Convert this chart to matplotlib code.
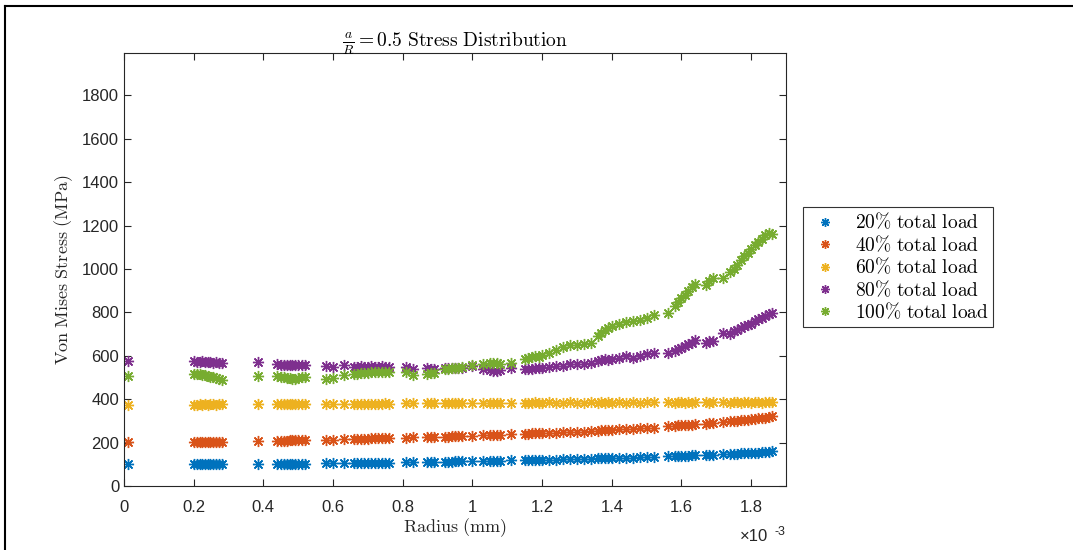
import matplotlib
matplotlib.use("Agg")
import matplotlib.pyplot as plt
from matplotlib.lines import Line2D
from matplotlib.ticker import FuncFormatter
import numpy as np

plt.rcParams["mathtext.fontset"] = "cm"

# radial positions of the nodes (mm)
radius_mm = [
    0.012,
    0.200, 0.210, 0.218, 0.225, 0.232, 0.240, 0.248, 0.256, 0.264, 0.272, 0.280,
    0.385,
    0.440, 0.450, 0.460, 0.468, 0.475, 0.482, 0.490, 0.498, 0.510, 0.520,
    0.580, 0.600, 0.630, 0.660, 0.670, 0.680, 0.690, 0.700, 0.710, 0.720, 0.730, 0.740, 0.750, 0.760,
    0.810, 0.830, 0.870, 0.880, 0.890, 0.920, 0.930, 0.940, 0.950, 0.960, 0.970, 1.000,
    1.030, 1.050, 1.060, 1.070, 1.080, 1.110,
    1.150, 1.160, 1.170, 1.180, 1.190, 1.200, 1.220, 1.240, 1.260, 1.280, 1.300, 1.320,
    1.340, 1.360, 1.370, 1.380, 1.390, 1.400, 1.420, 1.440, 1.460, 1.480, 1.500, 1.520,
    1.560, 1.580, 1.590, 1.600, 1.610, 1.620, 1.630, 1.640, 1.670, 1.680, 1.690,
    1.720, 1.740, 1.750, 1.760, 1.770, 1.780, 1.790, 1.800, 1.810, 1.820, 1.830, 1.840, 1.850, 1.860,
]

# von Mises stress (MPa) per load case
stress_20 = [
    101,
    101, 102, 101, 102, 101, 102, 101, 101, 102, 101, 101,
    102,
    102, 102, 103, 102, 103, 103, 102, 103, 103, 103,
    104, 104, 105, 106, 106, 106, 107, 107, 107, 107, 108, 108, 108, 108,
    109, 109, 110, 110, 111, 112, 112, 112, 113, 113, 113, 114,
    115, 116, 116, 117, 117, 118,
    119, 119, 120, 120, 121, 121, 122, 122, 123, 124, 124, 125,
    126, 127, 128, 128, 129, 129, 130, 131, 131, 132, 133, 134,
    137, 138, 139, 139, 140, 140, 141, 141, 143, 143, 144,
    146, 147, 148, 149, 150, 150, 151, 152, 153, 154, 155, 157, 158, 160,
]
stress_40 = [
    204,
    204, 205, 204, 205, 205, 205, 204, 205, 205, 205, 205,
    206,
    208, 208, 209, 209, 210, 210, 210, 211, 211, 212,
    213, 214, 215, 216, 217, 217, 218, 218, 219, 219, 220, 220, 221, 221,
    223, 224, 225, 226, 226, 228, 228, 229, 229, 230, 230, 232,
    234, 235, 236, 236, 237, 238,
    240, 241, 242, 242, 243, 244, 245, 246, 247, 249, 250, 251,
    253, 255, 256, 257, 258, 259, 261, 263, 264, 266, 267, 269,
    276, 278, 279, 280, 281, 282, 283, 284, 287, 288, 289,
    296, 299, 300, 301, 303, 304, 305, 307, 309, 311, 313, 315, 318, 321,
]
stress_60 = [
    374,
    375, 375, 376, 375, 376, 375, 376, 376, 375, 376, 376,
    377,
    377, 378, 377, 378, 378, 377, 378, 378, 378, 378,
    378, 379, 379, 379, 379, 380, 379, 380, 380, 380, 380, 380, 381, 380,
    381, 381, 381, 382, 381, 382, 382, 382, 383, 382, 382, 383,
    383, 383, 384, 383, 384, 384,
    384, 384, 384, 385, 384, 384, 385, 384, 384, 385, 384, 384,
    385, 384, 385, 384, 385, 384, 385, 384, 385, 384, 385, 385,
    385, 384, 385, 385, 384, 385, 384, 385, 385, 384, 385,
    385, 384, 385, 385, 384, 385, 385, 384, 385, 385, 384, 385, 385, 386,
]
stress_80 = [
    574,
    575, 573, 572, 574, 571, 572, 570, 569, 570, 568, 567,
    571,
    560, 558, 559, 557, 558, 556, 557, 556, 558, 557,
    551, 550, 556, 549, 550, 551, 549, 550, 551, 550, 549, 551, 550, 549,
    546, 540, 543, 540, 541, 543, 542, 543, 544, 543, 542, 551,
    539, 536, 530, 528, 535, 543,
    540, 538, 540, 542, 545, 545, 548, 552, 555, 560, 562, 560,
    565, 575, 580, 585, 580, 585, 590, 598, 592, 600, 608, 612,
    612, 622, 630, 638, 645, 652, 660, 672, 660, 666, 670,
    705, 700, 712, 720, 728, 735, 740, 748, 760, 768, 775, 785, 792, 795,
]
stress_100 = [
    505,
    518, 516, 514, 512, 510, 506, 503, 500, 496, 493, 490,
    505,
    505, 502, 500, 498, 496, 495, 494, 497, 503, 504,
    494, 496, 510, 515, 518, 520, 521, 522, 523, 524, 525, 523, 524, 525,
    525, 512, 518, 520, 521, 538, 540, 543, 545, 544, 546, 558,
    562, 566, 565, 566, 564, 567,
    585, 590, 595, 600, 595, 605, 615, 625, 640, 650, 650, 655,
    660, 690, 705, 720, 730, 735, 745, 755, 760, 765, 775, 790,
    797, 830, 850, 865, 880, 900, 915, 930, 925, 945, 960,
    960, 985, 1000, 1020, 1040, 1060, 1075, 1090, 1110, 1125, 1140, 1155, 1165, 1160,
]

series = [stress_20, stress_40, stress_60, stress_80, stress_100]
labels = [r"$\mathrm{20\%\ total\ load}$", r"$\mathrm{40\%\ total\ load}$",
          r"$\mathrm{60\%\ total\ load}$", r"$\mathrm{80\%\ total\ load}$",
          r"$\mathrm{100\%\ total\ load}$"]
colors = ["#0072BD", "#D95319", "#EDB120", "#7E2F8E", "#77AC30"]

radius_m = np.array(radius_mm) * 1e-3

fig = plt.figure(figsize=(10.73, 5.5), dpi=100)
ax = fig.add_axes([124 / 1073, 64 / 550, 662 / 1073, 433 / 550])

asterisk = (8, 2, 0)
for vals, lab, col in zip(series, labels, colors):
    ax.plot(radius_m, vals, linestyle="none", marker=asterisk, markersize=8,
            markeredgewidth=1.0, color=col, label=lab)

ax.set_xlim(0, 1.9e-3)
ax.set_ylim(0, 1995)
ax.set_xticks(np.arange(0, 1.81e-3, 0.2e-3))
ax.set_yticks(np.arange(0, 1801, 200))
ax.xaxis.set_major_formatter(FuncFormatter(lambda v, p: f"{v * 1e3:g}"))

axc = "0.15"
for sp in ax.spines.values():
    sp.set_color(axc)
    sp.set_linewidth(0.8)
ax.tick_params(direction="in", length=5, width=0.8, color=axc, labelcolor=axc,
               top=True, right=True, labelsize=12)
for t in ax.get_xticklabels() + ax.get_yticklabels():
    t.set_fontfamily("Liberation Sans")
ax.tick_params(axis="x", pad=10)

ax.text(0.931, -0.128, "×10", transform=ax.transAxes, fontsize=12,
        color=axc, family="Liberation Sans", va="baseline")
ax.text(0.982, -0.113, "-3", transform=ax.transAxes, fontsize=9,
        color=axc, family="Liberation Sans", va="baseline")

ax.set_xlabel(r"$\mathrm{Radius\ (mm)}$", fontsize=13, color="0.15", labelpad=1)
ax.set_ylabel(r"$\mathrm{Von\ Mises\ Stress\ (MPa)}$", fontsize=13, color="0.15", labelpad=5)
ax.set_title(r"$\frac{a}{R} = 0.5\ \mathrm{Stress\ Distribution}$", fontsize=14, pad=4)

leg = ax.legend(loc="upper left", bbox_to_anchor=(803 / 1073, 1 - 207 / 550),
                bbox_transform=fig.transFigure, borderaxespad=0, fancybox=False,
                edgecolor="k", fontsize=14, handletextpad=0.6, borderpad=0.25,
                labelspacing=0.1, handlelength=1.8, markerscale=0.8)
leg.get_frame().set_linewidth(0.8)

# frame around the figure
fig.add_artist(Line2D([5 / 1073, 5 / 1073], [0, 1 - 6 / 550], transform=fig.transFigure,
                      color="k", lw=1.5))
fig.add_artist(Line2D([5 / 1073, 1], [1 - 6 / 550, 1 - 6 / 550], transform=fig.transFigure,
                      color="k", lw=1.5))

fig.savefig("out.png", dpi=100)
